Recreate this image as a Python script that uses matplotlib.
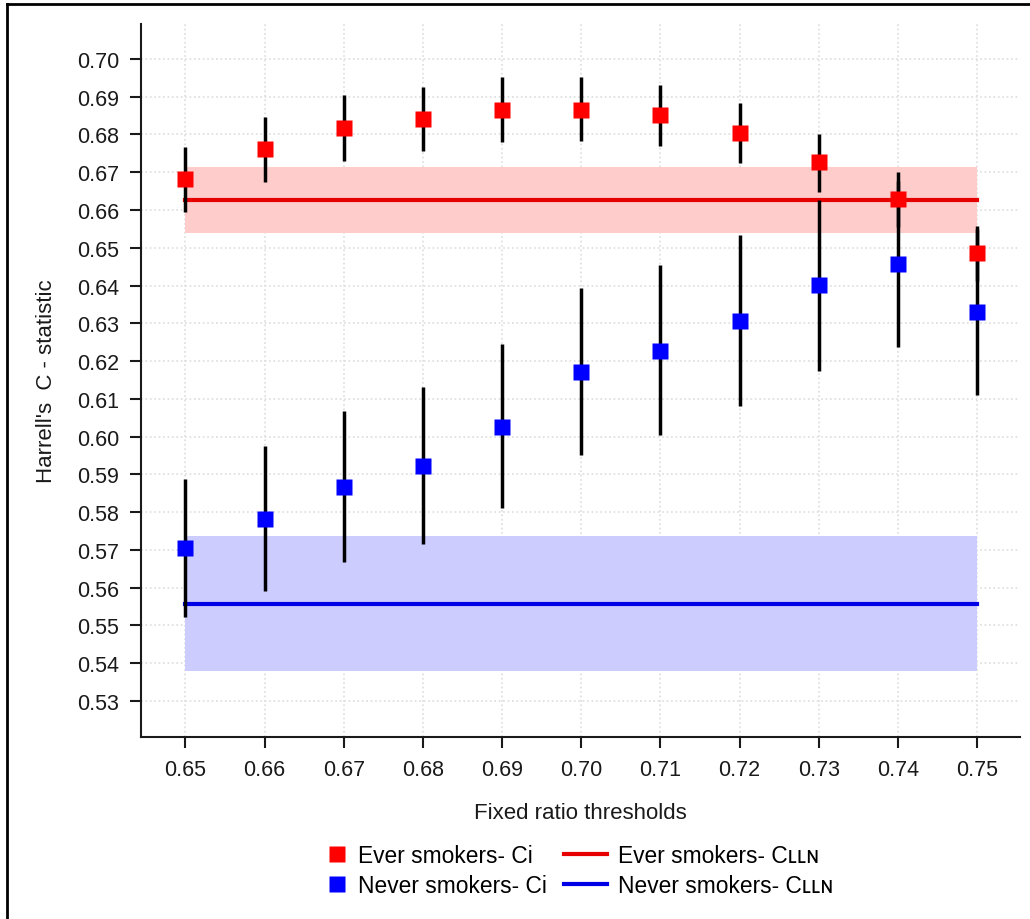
import matplotlib.pyplot as plt
from matplotlib.lines import Line2D

plt.rcParams['font.family'] = ['Liberation Sans', 'DejaVu Sans']

thresholds = [0.65, 0.66, 0.67, 0.68, 0.69, 0.70, 0.71, 0.72, 0.73, 0.74, 0.75]

ever_c = [0.6682, 0.6761, 0.6817, 0.6841, 0.6865, 0.6865, 0.6851, 0.6803, 0.6726, 0.6629, 0.6485]
ever_lo = [0.6594, 0.6674, 0.6730, 0.6755, 0.6779, 0.6782, 0.6770, 0.6724, 0.6648, 0.6556, 0.6412]
ever_hi = [0.6767, 0.6847, 0.6905, 0.6926, 0.6952, 0.6952, 0.6931, 0.6883, 0.6801, 0.6702, 0.6558]

never_c = [0.5705, 0.5782, 0.5867, 0.5923, 0.6026, 0.6172, 0.6228, 0.6306, 0.6401, 0.6457, 0.6330]
never_lo = [0.5522, 0.5592, 0.5667, 0.5715, 0.5811, 0.5951, 0.6003, 0.6080, 0.6175, 0.6236, 0.6111]
never_hi = [0.5889, 0.5974, 0.6067, 0.6132, 0.6245, 0.6393, 0.6454, 0.6534, 0.6627, 0.6678, 0.6549]

ever_lln, ever_lln_lo, ever_lln_hi = 0.6627, 0.6540, 0.6713
never_lln, never_lln_lo, never_lln_hi = 0.5557, 0.5379, 0.5736

yticks = [round(0.53 + 0.01 * i, 2) for i in range(18)]

fig = plt.figure(figsize=(10.3, 9.2), dpi=100)
ax = fig.add_axes([0.137, 0.198, 0.853, 0.775])

# CLLN bands and lines
span = [thresholds[0], thresholds[-1]]
ax.fill_between(span, ever_lln_lo, ever_lln_hi, color='#ffcccc', lw=0, zorder=1)
ax.fill_between(span, never_lln_lo, never_lln_hi, color='#ccccff', lw=0, zorder=1)
ax.plot(span, [ever_lln, ever_lln], color='#e60000', lw=3, zorder=2)
ax.plot(span, [never_lln, never_lln], color='#0000e6', lw=3, zorder=2)

# Ci with intervals
ax.vlines(thresholds, ever_lo, ever_hi, color='black', lw=2.5, zorder=3)
ax.vlines(thresholds, never_lo, never_hi, color='black', lw=2.5, zorder=3)
ax.plot(thresholds, ever_c, 's', color='#ff0000', ms=11, mec='none', zorder=4)
ax.plot(thresholds, never_c, 's', color='#0000ff', ms=11, mec='none', zorder=4)

ax.set_xlim(0.6444, 0.7554)
ax.set_ylim(0.5205, 0.7093)
ax.set_xticks(thresholds)
ax.set_xticklabels([f'{t:.2f}' for t in thresholds])
ax.set_yticks(yticks)
ax.set_yticklabels([f'{t:.2f}' for t in yticks])
ax.tick_params(axis='both', direction='out', length=8, width=1.5, labelsize=15.5,
               colors='#1a1a1a', pad=8)
ax.grid(True, color='#dddddd', linestyle=':', lw=1.2, zorder=0)
ax.set_axisbelow(True)
for s in ['top', 'right']:
    ax.spines[s].set_visible(False)
for s in ['left', 'bottom']:
    ax.spines[s].set_linewidth(1.5)
    ax.spines[s].set_color('#1a1a1a')

ax.set_xlabel('Fixed ratio thresholds', fontsize=16, labelpad=16, color='#1a1a1a')
ax.set_ylabel("Harrell's  C - statistic", fontsize=16, labelpad=14, color='#1a1a1a')

# legend as two single-column blocks (short marker handles, longer line handles)
mk_handles = [Line2D([], [], ls='none', marker='s', color='#ff0000', ms=11, mec='none'),
              Line2D([], [], ls='none', marker='s', color='#0000ff', ms=11, mec='none')]
mk_labels = ['Ever smokers- Ci', 'Never smokers- Ci']
ln_handles = [Line2D([], [], color='#e60000', lw=3),
              Line2D([], [], color='#0000e6', lw=3)]
ln_labels = ['Ever smokers- C\u029f\u029f\u0274', 'Never smokers- C\u029f\u029f\u0274']
fig.legend(mk_handles, mk_labels, loc='center left', bbox_to_anchor=(0.318, 0.053),
           frameon=False, fontsize=16.4, handlelength=0.8, handletextpad=0.55,
           labelspacing=0.3, borderaxespad=0, borderpad=0)
fig.legend(ln_handles, ln_labels, loc='center left', bbox_to_anchor=(0.548, 0.053),
           frameon=False, fontsize=16.4, handlelength=1.85, handletextpad=0.5,
           labelspacing=0.3, borderaxespad=0, borderpad=0)

# partial frame seen at the top and left of the picture
fig.add_artist(Line2D([7 / 1030, 7 / 1030], [0, 1 - 5 / 920], color='black', lw=2,
                      transform=fig.transFigure))
fig.add_artist(Line2D([7 / 1030, 1], [1 - 5 / 920, 1 - 5 / 920], color='black', lw=2,
                      transform=fig.transFigure))

fig.savefig('out.png', dpi=100)
